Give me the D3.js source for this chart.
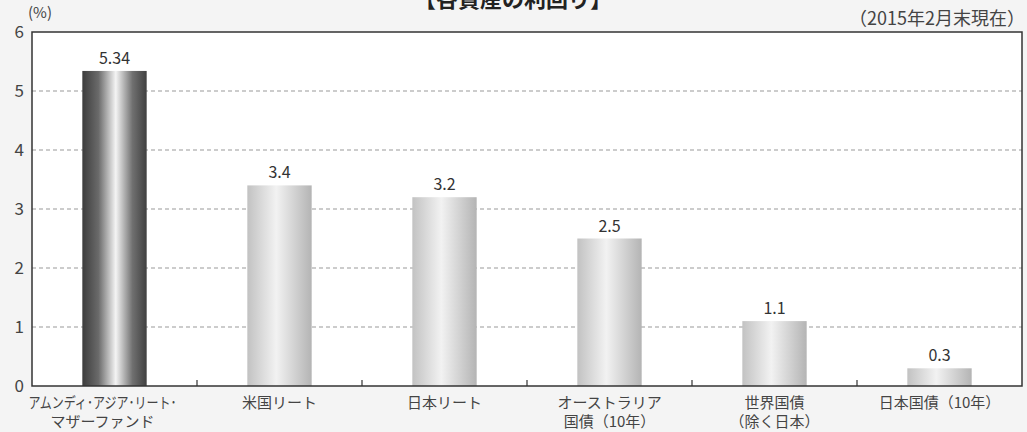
<!DOCTYPE html>
<html>
<head>
<meta charset="utf-8">
<script src="https://cdn.jsdelivr.net/npm/d3@7"></script>
<style>
  body { margin: 0; background: #f4f4f4; }
  svg { display: block; font-family: "Noto Sans CJK JP", "Noto Sans", sans-serif; }
</style>
</head>
<body>
<svg id="chart" width="1027" height="432"></svg>
<script>
/* data */
var categories = [
  ["アムンディ･アジア･リート･", "マザーファンド"],
  ["米国リート"],
  ["日本リート"],
  ["オーストラリア", "国債（10年）"],
  ["世界国債", "（除く日本）"],
  ["日本国債（10年）"]
];
var values = [5.34, 3.4, 3.2, 2.5, 1.1, 0.3];
var valueLabels = ["5.34", "3.4", "3.2", "2.5", "1.1", "0.3"];
var yTicks = [0, 1, 2, 3, 4, 5, 6];

var margin = { top: 32, right: 5, bottom: 46, left: 32 };
var W = 1027, H = 432;
var width = W - margin.left - margin.right;
var height = H - margin.top - margin.bottom;

var svg = d3.select("#chart");

var defs = svg.append("defs");
var gDark = defs.append("linearGradient").attr("id", "gDark");
gDark.append("stop").attr("offset", "0%").attr("stop-color", "#3c3c3c");
gDark.append("stop").attr("offset", "25%").attr("stop-color", "#6a6a6a");
gDark.append("stop").attr("offset", "52%").attr("stop-color", "#f4f4f4");
gDark.append("stop").attr("offset", "78%").attr("stop-color", "#707070");
gDark.append("stop").attr("offset", "100%").attr("stop-color", "#404040");
var gLight = defs.append("linearGradient").attr("id", "gLight");
gLight.append("stop").attr("offset", "0%").attr("stop-color", "#c2c2c2");
gLight.append("stop").attr("offset", "45%").attr("stop-color", "#f2f2f2");
gLight.append("stop").attr("offset", "100%").attr("stop-color", "#b4b4b4");

// title (cut off at top of the picture)
svg.append("text")
  .attr("x", 513).attr("y", 7)
  .attr("text-anchor", "middle")
  .attr("font-size", 22).attr("font-weight", "bold").attr("fill", "#222")
  .text("【各資産の利回り】");

svg.append("text")
  .attr("x", 1025).attr("y", 25)
  .attr("text-anchor", "end")
  .attr("font-size", 18).attr("fill", "#444")
  .text("（2015年2月末現在）");

svg.append("text")
  .attr("x", 28).attr("y", 18)
  .attr("font-size", 15).attr("fill", "#444")
  .text("(%)");

var g = svg.append("g").attr("transform", "translate(" + margin.left + "," + margin.top + ")");

var x = d3.scaleBand().domain(d3.range(categories.length)).range([0, width]).paddingInner(0).paddingOuter(0);
var y = d3.scaleLinear().domain([0, 6]).range([height, 0]);

g.append("rect").attr("width", width).attr("height", height).attr("fill", "#fff");

// dashed grid
g.selectAll(".grid").data(yTicks.filter(function (d) { return d > 0 && d < 6; }))
  .enter().append("line")
  .attr("x1", 0).attr("x2", width)
  .attr("y1", function (d) { return y(d); }).attr("y2", function (d) { return y(d); })
  .attr("stroke", "#999").attr("stroke-width", 1).attr("stroke-dasharray", "4,3");

// bars
var bw = x.bandwidth() * 0.39;
g.selectAll(".bar").data(values).enter().append("rect")
  .attr("x", function (d, i) { return x(i) + (x.bandwidth() - bw) / 2; })
  .attr("y", function (d) { return y(d); })
  .attr("width", bw)
  .attr("height", function (d) { return height - y(d); })
  .attr("fill", function (d, i) { return i === 0 ? "url(#gDark)" : "url(#gLight)"; });

// value labels
g.selectAll(".val").data(values).enter().append("text")
  .attr("x", function (d, i) { return x(i) + x.bandwidth() / 2; })
  .attr("y", function (d) { return y(d) - 7; })
  .attr("text-anchor", "middle")
  .attr("font-size", 16).attr("fill", "#333")
  .text(function (d, i) { return valueLabels[i]; });

// frame
g.append("rect").attr("width", width).attr("height", height)
  .attr("fill", "none").attr("stroke", "#333").attr("stroke-width", 1.5);

// separator ticks
g.selectAll(".sep").data(d3.range(1, categories.length)).enter().append("line")
  .attr("x1", function (i) { return x(i); }).attr("x2", function (i) { return x(i); })
  .attr("y1", height).attr("y2", height - 6)
  .attr("stroke", "#333").attr("stroke-width", 1.2);

// y axis labels
var yAxis = d3.axisLeft(y).tickValues(yTicks).tickSize(0).tickPadding(8).tickFormat(d3.format("d"));
var ya = g.append("g").call(yAxis);
ya.select(".domain").remove();
ya.selectAll("text").attr("font-size", 17).attr("fill", "#444")
  .style("font-family", "'Noto Sans CJK JP', sans-serif");

// category labels, one text per line
g.selectAll(".cat").data(categories).enter().append("g")
  .attr("transform", function (d, i) {
    var cx = x(i) + x.bandwidth() / 2 - (i === 0 ? 12 : 0);
    return "translate(" + cx + "," + (height + 22) + ")";
  })
  .selectAll("text").data(function (d) { return d; }).enter().append("text")
  .attr("text-anchor", "middle")
  .attr("font-size", 15).attr("fill", "#444")
  .attr("y", function (d, j) { return j * 19; })
  .text(function (d) { return d; })
  .each(function () {
    // squeeze lines that are wider than the picture's lettering
    if (this.getComputedTextLength() > 150) {
      d3.select(this).attr("textLength", 148).attr("lengthAdjust", "spacingAndGlyphs");
    }
  });
</script>
</body>
</html>
